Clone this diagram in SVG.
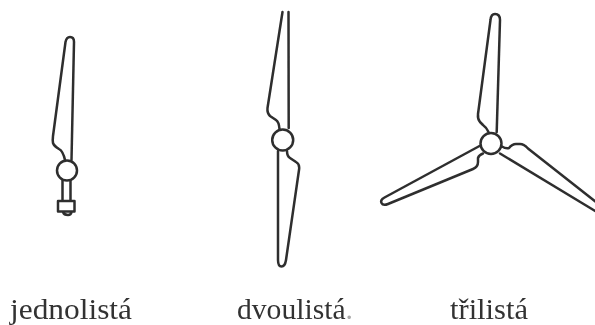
<svg xmlns="http://www.w3.org/2000/svg" width="595" height="325" viewBox="0 0 595 325">
<defs><filter id="soft" filterUnits="userSpaceOnUse" x="0" y="0" width="595" height="325"><feGaussianBlur stdDeviation="0.7"/></filter><filter id="softer" filterUnits="userSpaceOnUse" x="0" y="0" width="595" height="325"><feGaussianBlur stdDeviation="0.5"/></filter></defs>
<style>
.l{fill:none;stroke:#2e2e2e;stroke-width:2.500;stroke-linejoin:round;stroke-linecap:round}
.t{font-family:"Liberation Serif","Times New Roman",serif;font-size:29px;fill:#333}
</style>
<rect width="595" height="325" fill="#fff"/>
<g filter="url(#soft)">
<g id="jednolista">
<path class="l" d="M65 160Q63 151 59 149Q54 146 53 143Q52.500 140 53 136L65.500 42Q66.500 37 70 37Q74 37 74 42L71.500 160"/>
<circle class="l" cx="67" cy="170.500" r="10"/>
<path class="l" d="M62.500 180.500V200M70.500 180.500V200M58 201H74.500V211.500H58ZM63 212Q64 215 68 215Q71 215 71.500 212"/>
</g>
<g id="dvoulista">
<path class="l" d="M279.500 129Q279 122 276 120L270 116Q267 113 267.500 108L282.500 12M288.500 12L288.700 128"/>
<circle class="l" cx="282.700" cy="140" r="10.500"/>
<path class="l" d="M278 151L278 260Q278 266.500 281.500 266.500Q285 266.500 286 260L299 170Q300 164 296 162L290 158Q287 156 287 151"/>
</g>
<g id="trilista">
<path class="l" d="M488.500 132Q486 127 483 125L480 122Q477.500 119 478 114L490.500 20Q491 14 495 14Q500 14 500 20L496.700 132"/>
<circle class="l" cx="491" cy="143.500" r="10.500"/>
<path class="l" d="M502 146.500Q506 149 509 148Q512 144 516 144H520Q524 144 528 148.500L596 202M500 153.500L596 211.500"/>
<path class="l" d="M479.500 146L384.500 197.500Q380 200 381.500 203Q383 206 388 204L473 169Q478 167 478 162V158Q479 155 483 153.500"/>
</g>
</g>
<g id="labels" filter="url(#softer)">
<text class="t" x="10" y="318.500" textLength="122" lengthAdjust="spacingAndGlyphs">jednolistá</text>
<text class="t" x="237" y="318.500" textLength="116" lengthAdjust="spacingAndGlyphs">dvoulistá<tspan fill="#aaa">.</tspan></text>
<text class="t" x="450" y="318.500" textLength="78" lengthAdjust="spacingAndGlyphs">třilistá</text>
</g>
</svg>
